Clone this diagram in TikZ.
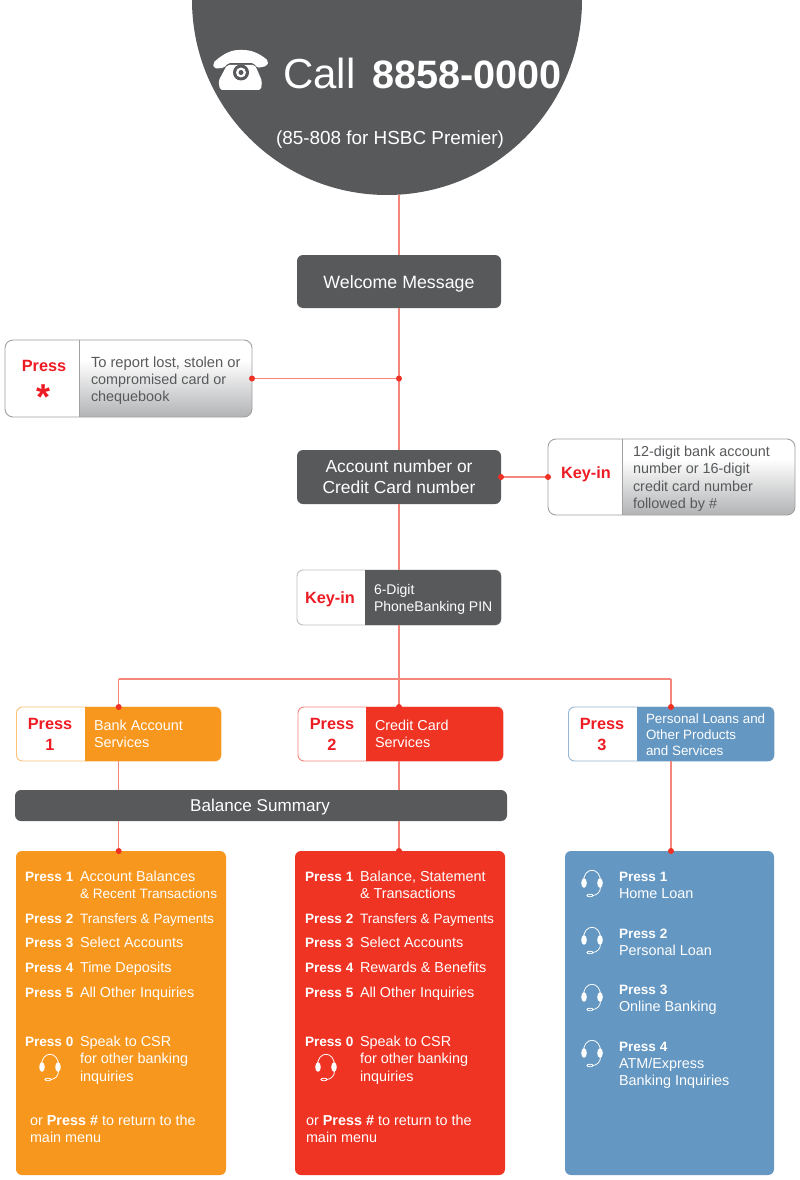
\documentclass[tikz,border=0pt]{standalone}
\usepackage{fontspec}
\setmainfont{Liberation Sans}
\definecolor{dk}{HTML}{58595B}
\definecolor{org}{HTML}{F8971D}
\definecolor{rd}{HTML}{EF3424}
\definecolor{bl}{HTML}{6497C2}
\definecolor{ln}{HTML}{F5867C}
\definecolor{dt}{HTML}{EE3124}
\definecolor{pr}{HTML}{ED1C24}
\definecolor{sb}{HTML}{B2B3B5}
\definecolor{bd}{HTML}{A0A1A3}
\pgfdeclareverticalshading{cardgrad}{100bp}{color(0bp)=(sb); color(25bp)=(sb); color(62bp)=(white); color(100bp)=(white)}
\newcommand{\fz}[1]{\fontsize{#1}{#1}\selectfont}
\tikzset{
  x=1pt,y=-1pt,
  link/.style={draw=ln,line width=1.2pt},
  dotm/.style={circle,fill=dt,draw=none,inner sep=0pt,minimum size=6pt},
  txt/.style={anchor=base west,inner sep=0pt,outer sep=0pt,text=white,font=\fz{14.4}},
  tight/.style={txt,font=\fz{13.6}},
  gtxt/.style={txt,text=dk},
  redc/.style={anchor=base,inner sep=0pt,outer sep=0pt,text=pr,font=\fz{16.3}\bfseries},
  boxn/.style={anchor=north west,inner sep=0pt,outer sep=0pt,rounded corners=6pt},
  pics/hs/.style={code={
    \draw[white,line width=0.8pt] (-8.5,0) .. controls (-9.5,-17) and (9.5,-17) .. (8.5,0);
    \fill[white] (-8,0) ellipse[x radius=2.8,y radius=4.8];
    \fill[white] (8,0) ellipse[x radius=2.8,y radius=4.8];
    \draw[white,line width=0.8pt] (8.5,4) .. controls (8.5,9) and (5,12) .. (1,12.5);
    \draw[white,line width=0.8pt] (-2,12.5) ellipse[x radius=3,y radius=1.3];
  }}
}
% name, x1, y1, xdiv, x2, y2, colour, border
\newcommand{\twobox}[8]{%
  \pgfmathsetlengthmacro{\bw}{(#5)-(#2)}\pgfmathsetlengthmacro{\bh}{(#6)-(#3)}%
  \node[boxn,fill=white,draw=#8,line width=0.9pt,minimum width=\bw,minimum height=\bh] (#1) at (#2,#3) {};
  \fill[#7] (#4,#3) [rounded corners=6pt] -- (#5,#3) -- (#5,#6) [sharp corners] -- (#4,#6) -- cycle;
}
% name, x1, y1, xdiv, x2, y2
\newcommand{\gradbox}[6]{%
  \pgfmathsetlengthmacro{\bw}{(#5)-(#2)}\pgfmathsetlengthmacro{\bh}{(#6)-(#3)}%
  \shade[shading=cardgrad] (#4,#3) [rounded corners=8pt] -- (#5,#3) -- (#5,#6) [sharp corners] -- (#4,#6) -- cycle;
  \node[boxn,rounded corners=8pt,draw=bd,line width=0.9pt,minimum width=\bw,minimum height=\bh] (#1) at (#2,#3) {};
  \draw[bd,line width=0.9pt] (#4,#3) -- (#4,#6);
}
\newcommand{\solidbox}[6]{%
  \pgfmathsetlengthmacro{\bw}{(#4)-(#2)}\pgfmathsetlengthmacro{\bh}{(#5)-(#3)}%
  \node[boxn,fill=#6,minimum width=\bw,minimum height=\bh] (#1) at (#2,#3) {};
}
\begin{document}
\begin{tikzpicture}
\useasboundingbox (0,0) rectangle (800,1180);
\fill[white] (0,0) rectangle (800,1180);
% named junctions
\coordinate (top) at (399,195);
\coordinate (j1) at (399,378.5);
\coordinate (bus) at (399,679);
\coordinate (busL) at (118.7,679);
\coordinate (busR) at (671,679);
% call disc
\fill[dk] (192,0) arc[start angle=180,end angle=0,radius=195];
% phone
\fill[white,rounded corners=2pt] (213,63) .. controls (224,53) and (232,50) .. (241,50) .. controls (251,50) and (259,53) .. (268.5,61) -- (267,66) -- (257,68) -- (254,63) -- (228,63) -- (224,68) -- (214,68.5) -- cycle;
\fill[white,rounded corners=2pt] (227,65) -- (255,65) -- (262,81) -- (261,90) -- (220,90) -- (218.5,81) -- cycle;
\fill[dk] (241,72.5) circle[radius=8];
\fill[white] (241,72.5) circle[radius=5];
\fill[dk] (241,72.5) circle[radius=2.5];
\node[txt,font=\fz{42}] (call) at (283,89) {Call};
\node[txt,font=\fz{39.6}\bfseries] (num) at (372,89) {8858-0000};
\node[txt,font=\fz{18.9}] (alt) at (276,144) {(85-808 for HSBC Premier)};

% boxes
\solidbox{welcome}{297}{255}{501}{308}{dk}
\node[txt,anchor=base,font=\fz{17.8}] (welcomet) at (399,288) {Welcome Message};
\gradbox{lost}{5}{340}{79}{252}{417}
\node[redc] (lostp) at (44,371) {Press};
\node[redc,font=\fz{36}\bfseries] (losts) at (44,409) {*};
\node[gtxt,font=\fz{14.7}] (lost1) at (91,367) {To report lost, stolen or};
\node[gtxt] (lost2) at (91,384) {compromised card or};
\node[gtxt] (lost3) at (91,401) {chequebook};
\solidbox{account}{297}{450}{501}{504}{dk}
\node[txt,anchor=base,font=\fz{17.4}] (account1) at (399,472) {Account number or};
\node[txt,anchor=base,font=\fz{17.4}] (account2) at (399,493) {Credit Card number};
\gradbox{keycard}{548}{439}{622}{795}{515}
\node[redc] (keyp) at (586,478) {Key-in};
\node[gtxt] (key1) at (633,456) {12-digit bank account};
\node[gtxt] (key2) at (633,473) {number or 16-digit};
\node[gtxt] (key3) at (633,491) {credit card number};
\node[gtxt] (key4) at (633,508) {followed by \#};
\twobox{pin}{297}{570}{365}{501}{625}{dk}{black!25}
\node[redc] (pinp) at (330,603) {Key-in};
\node[txt,font=\fz{14}] (pin1) at (374,594) {6-Digit};
\node[txt,font=\fz{14}] (pin2) at (374,611) {PhoneBanking PIN};

\twobox{svc1}{16.5}{707}{85}{221}{761}{org}{org!60}
\node[redc] (svc1p) at (50,729) {Press};
\node[redc] (svc1n) at (50,750) {1};
\node[txt] (svc1a) at (94,730) {Bank Account};
\node[txt] (svc1b) at (94,747) {Services};
\twobox{svc2}{298}{707}{366}{503}{761}{rd}{rd!60}
\node[redc] (svc2p) at (332,729) {Press};
\node[redc] (svc2n) at (332,750) {2};
\node[txt] (svc2a) at (375,730) {Credit Card};
\node[txt] (svc2b) at (375,747) {Services};
\twobox{svc3}{568.5}{707}{637}{774}{761}{bl}{bl!70}
\node[redc] (svc3p) at (602,729) {Press};
\node[redc] (svc3n) at (602,750) {3};
\node[txt,font=\fz{13.4}] (svc3a) at (646,723) {Personal Loans and};
\node[txt,font=\fz{13.4}] (svc3b) at (646,739) {Other Products};
\node[txt,font=\fz{13.4}] (svc3c) at (646,755) {and Services};

\solidbox{balance}{15}{790}{507}{821}{dk}
\node[txt,anchor=base,font=\fz{17.1}] (balancet) at (260,811) {Balance Summary};

\solidbox{panelA}{16}{851}{226}{1175}{org}
\solidbox{panelB}{295}{851}{505}{1175}{rd}
\solidbox{panelC}{565}{851}{774}{1175}{bl}

% connectors
\draw[link] (top) -- (welcome.north);
\draw[link] (welcome.south) -- (j1) -- (account.north);
\draw[link] (lost.east) -- (j1);
\draw[link] (account.south) -- (pin.north);
\draw[link] (account.east) -- (keycard.west);
\draw[link] (pin.south) -- (bus);
\draw[link] (busL) -- (busR);
\draw[link] (busL) -- (busL |- svc1.north);
\draw[link] (bus) -- (svc2.north -| bus);
\draw[link] (busR) -- (busR |- svc3.north);
\draw[link] (svc1.south -| busL) -- (balance.north -| busL);
\draw[link] (svc2.south -| bus) -- (balance.north -| bus);
\draw[link] (balance.south -| busL) -- (panelA.north -| busL);
\draw[link] (balance.south -| bus) -- (panelB.north -| bus);
\draw[link] (svc3.south -| busR) -- (panelC.north -| busR);
\foreach \pp in {(j1),(lost.east),(account.east),(keycard.west),(busL |- svc1.north),(bus |- svc2.north),(busR |- svc3.north),(busL |- panelA.north),(bus |- panelB.north),(busR |- panelC.north)}
  \node[dotm] at \pp {};

% orange panel
\foreach \nm/\yy/\tx in {1/881/Account Balances,3/947/Select Accounts,4/972/Time Deposits,5/997/All Other Inquiries,0/1046/Speak to CSR}{
  \node[txt,font=\fz{13.6}\bfseries] (ap\nm) at (25,\yy) {Press \nm};
  \node[txt] (at\nm) at (80,\yy) {\tx};
}
\node[txt,font=\fz{13.6}\bfseries] (ap2) at (25,923) {Press 2};
\node[tight] (at2) at (80,923) {Transfers \& Payments};
\node[tight] (ax1) at (80,898) {\& Recent Transactions};
\node[txt] (ax2) at (80,1063) {for other banking};
\node[txt] (ax3) at (80,1081) {inquiries};
\node[txt] (ao1) at (30,1125) {or \textbf{Press \#} to return to the};
\node[txt] (ao2) at (30,1142) {main menu};
\pic at (50,1067) {hs};
% red panel
\foreach \nm/\yy/\tx in {1/881/{Balance, Statement},3/947/Select Accounts,4/972/Rewards \& Benefits,5/997/All Other Inquiries,0/1046/Speak to CSR}{
  \node[txt,font=\fz{13.6}\bfseries] (bp\nm) at (305,\yy) {Press \nm};
  \node[txt] (bt\nm) at (360,\yy) {\tx};
}
\node[txt,font=\fz{13.6}\bfseries] (bp2) at (305,923) {Press 2};
\node[tight] (bt2) at (360,923) {Transfers \& Payments};
\node[txt] (bx1) at (360,898) {\& Transactions};
\node[txt] (bx2) at (360,1063) {for other banking};
\node[txt] (bx3) at (360,1081) {inquiries};
\node[txt] (bo1) at (306,1125) {or \textbf{Press \#} to return to the};
\node[txt] (bo2) at (306,1142) {main menu};
\pic at (326,1067) {hs};
% blue panel
\pic at (592,883) {hs};
\pic at (592,940) {hs};
\pic at (592,997) {hs};
\pic at (592,1053) {hs};
\node[txt,font=\fz{13.6}\bfseries] (cp1) at (619,881) {Press 1};
\node[txt] (ct1) at (619,898) {Home Loan};
\node[txt,font=\fz{13.6}\bfseries] (cp2) at (619,938) {Press 2};
\node[txt] (ct2) at (619,955) {Personal Loan};
\node[txt,font=\fz{13.6}\bfseries] (cp3) at (619,994) {Press 3};
\node[txt] (ct3) at (619,1011) {Online Banking};
\node[txt,font=\fz{13.6}\bfseries] (cp4) at (619,1051) {Press 4};
\node[txt] (ct4) at (619,1068) {ATM/Express};
\node[txt] (ct5) at (619,1085) {Banking Inquiries};
\end{tikzpicture}
\end{document}
